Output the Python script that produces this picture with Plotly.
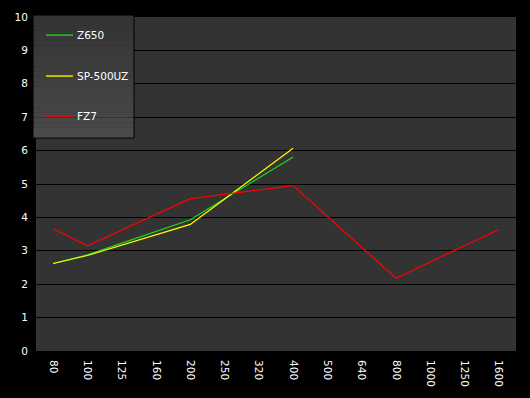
import plotly.graph_objects as go

categories = ["80", "100", "125", "160", "200", "250", "320", "400", "500", "640", "800", "1000", "1250", "1600"]
series_names = ["Z650", "SP-500UZ", "FZ7"]
z650 = [2.62, 2.88, None, None, 3.93, None, None, 5.81, None, None, None, None, None, None]
sp500uz = [2.62, 2.86, None, None, 3.79, None, None, 6.07, None, None, None, None, None, None]
fz7 = [3.66, 3.15, None, None, 4.56, None, None, 4.95, None, None, 2.18, None, None, 3.64]
series_values = [z650, sp500uz, fz7]
series_colors = ["#18e018", "#ffff00", "#ff0000"]
y_ticks = list(range(0, 11))

W, H = 530, 398
L, R, T, B = 36, 14, 11, 45
pw, ph = W - L - R, H - T - B

def px_x(p):
    return (p - L) / pw

def px_y(p):
    return (H - B - p) / ph

fig = go.Figure()
for name, vals, col in zip(series_names, series_values, series_colors):
    fig.add_trace(go.Scatter(x=categories, y=vals, name=name, mode="lines",
                             connectgaps=True, line=dict(color=col, width=1.2),
                             showlegend=False))

shapes = []
# legend background gradient
x0, x1, ytop, ybot = 33, 134, 9, 135
n = 24
for i in range(n):
    c = int(0x33 + (0x4a - 0x33) * i / (n - 1))
    ya = ytop + (ybot - ytop) * i / n
    yb = ytop + (ybot - ytop) * (i + 1) / n
    shapes.append(dict(type="rect", xref="paper", yref="paper",
                       x0=px_x(x0), x1=px_x(x1), y0=px_y(ya), y1=px_y(yb),
                       fillcolor=f"rgb({c},{c},{c})", line=dict(width=0), layer="above"))
shapes.append(dict(type="rect", xref="paper", yref="paper",
                   x0=px_x(x0), x1=px_x(x1), y0=px_y(ytop), y1=px_y(ybot),
                   fillcolor="rgba(0,0,0,0)", line=dict(color="black", width=1), layer="above"))
annotations = []
item_y = [29.5, 71.5, 112.5]
for name, col, yy in zip(series_names, series_colors, item_y):
    shapes.append(dict(type="line", xref="paper", yref="paper",
                       x0=px_x(46), x1=px_x(73), y0=px_y(yy), y1=px_y(yy),
                       line=dict(color=col, width=1.3), layer="above"))
    annotations.append(dict(xref="paper", yref="paper", x=px_x(75), y=px_y(yy),
                            text=name, showarrow=False, xanchor="left", yanchor="middle",
                            font=dict(color="white", size=10.5, family="DejaVu Sans")))

fig.update_layout(
    width=W, height=H,
    margin=dict(l=L, r=R, t=T, b=B, pad=0),
    paper_bgcolor="black", plot_bgcolor="#333333",
    font=dict(family="DejaVu Sans", size=10.5, color="white"),
    shapes=shapes, annotations=annotations,
    xaxis=dict(type="category", categoryorder="array", categoryarray=categories,
               range=[-0.5, len(categories) - 0.5], tickangle=90, showgrid=False,
               zeroline=False, showline=False, ticks="outside", ticklen=6, tickcolor="black",
               tickfont=dict(color="white", size=10.5)),
    yaxis=dict(range=[0, 10], tickvals=y_ticks, showgrid=True, gridcolor="black", gridwidth=1,
               zeroline=False, showline=False, ticks="outside", ticklen=5, tickcolor="black",
               tickfont=dict(color="white", size=10.5)),
)
fig.write_html("out.html", config={"displayModeBar": False},
               post_script="document.body.style.margin='0';document.body.style.overflow='hidden';")
